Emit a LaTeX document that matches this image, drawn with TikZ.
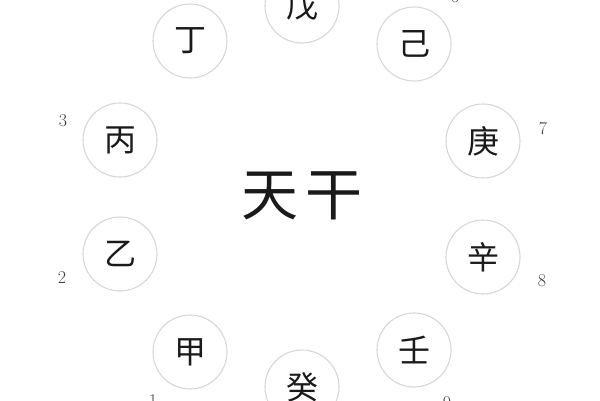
\documentclass[tikz,border=0pt]{standalone}
\usepackage{fontspec}
\newfontfamily\cjk{Noto Sans CJK SC}
\definecolor{ringgray}{HTML}{D6D6D6}
\definecolor{numgray}{HTML}{404040}
\definecolor{ink}{HTML}{1A1A1A}
\begin{document}
\begin{tikzpicture}[x=1pt,y=-1pt,
  stem/.style={circle,draw=ringgray,line width=1.1pt,minimum size=74pt,inner sep=0pt,
    font=\cjk\fontsize{32}{32}\selectfont,text=ink},
  num/.style={font=\fontsize{18}{18}\selectfont,text=numgray,inner sep=0pt},
  title/.style={font=\cjk\fontsize{57}{57}\selectfont,text=ink,inner sep=0pt}]
\useasboundingbox (0,0) rectangle (600,400);
\clip (0,0) rectangle (600,400);
\node[title] (tg) at (302,196) {天\kern8pt干};
\node[stem] (wu) at (302,6) {戊};
\node[stem] (ji) at (414,44) {己};
\node[stem] (geng) at (483,141) {庚};
\node[stem] (xin) at (483,257) {辛};
\node[stem] (ren) at (414,350) {壬};
\node[stem] (gui) at (302,387) {癸};
\node[stem] (jia) at (190,352) {甲};
\node[stem] (yi) at (120,254) {乙};
\node[stem] (bing) at (120,140) {丙};
\node[stem] (ding) at (190,41) {丁};
\node[num] (n1) at (153,401) {1};
\node[num] (n2) at (62,278) {2};
\node[num] (n3) at (63,121) {3};
\node[num] (n6) at (455,-3) {6};
\node[num] (n7) at (543,129) {7};
\node[num] (n8) at (542,281) {8};
\node[num] (n9) at (447,403) {9};
\end{tikzpicture}
\end{document}
